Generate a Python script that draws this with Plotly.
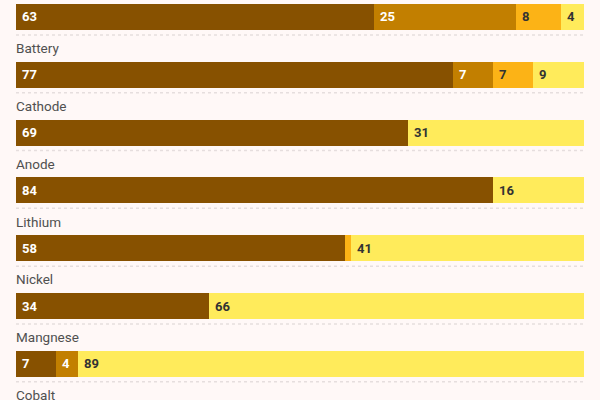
import plotly.graph_objects as go

categories = ["Electric vehicle", "Battery", "Cathode", "Anode", "Lithium", "Nickel", "Mangnese", "Cobalt"]
series_names = ["Share 1", "Share 2", "Share 3", "Share 4"]
s1 = [63, 77, 69, 84, 58, 34, 7, None]
s2 = [25, 7, 0, 0, 0, 0, 4, None]
s3 = [8, 7, 0, 0, 1, 0, 0, None]
s4 = [4, 9, 31, 16, 41, 66, 89, None]
series = [s1, s2, s3, s4]
colors = ["#875100", "#c27f00", "#fcb316", "#ffeb5b"]
text_colors = ["#ffffff", "#ffffff", "#333333", "#333333"]

BG = "#fff8f7"
rows = list(range(len(categories)))
LABEL_OFFSET = -0.46

fig = go.Figure()
for name, vals, col in zip(series_names, series, colors):
    fig.add_trace(go.Bar(
        y=rows, x=[v if v is not None else 0 for v in vals], name=name,
        orientation="h", marker=dict(color=col, line=dict(width=0)),
        width=0.45, hoverinfo="x+name", showlegend=False,
    ))

annotations = []
shapes = []
for i, cat in enumerate(categories):
    annotations.append(dict(
        x=0, y=i + LABEL_OFFSET, xref="x", yref="y", text=cat, showarrow=False,
        xanchor="left", yanchor="middle", xshift=-2,
        font=dict(family="Roboto", size=13.5, color="#505050"),
    ))
    if series[0][i] is None:
        continue
    start = 0
    for k, vals in enumerate(series):
        v = vals[i]
        if v and v >= 2:
            annotations.append(dict(
                x=start, y=i, xref="x", yref="y", text=f"<b>{v}</b>", showarrow=False,
                xanchor="left", yanchor="middle", xshift=4,
                font=dict(family="Roboto", size=13, color=text_colors[k]),
            ))
        start += v or 0
    shapes.append(dict(
        type="line", xref="x", yref="y", x0=0, x1=100, y0=i + 0.31, y1=i + 0.31,
        line=dict(color="#e6dede", width=1.5, dash="dot"), layer="below",
    ))

fig.update_layout(
    barmode="stack", width=600, height=400,
    margin=dict(l=0, r=0, t=0, b=0, pad=0, autoexpand=False),
    paper_bgcolor=BG, plot_bgcolor=BG,
    xaxis=dict(range=[-2.817, 102.82], visible=False, fixedrange=True),
    yaxis=dict(range=[6.626, -0.294], visible=False, fixedrange=True),
    annotations=annotations, shapes=shapes, bargap=0,
)

fig.write_html(
    "out.html",
    config={"displayModeBar": False},
    post_script="document.body.style.margin='0';document.body.style.background='%s';" % BG,
)
